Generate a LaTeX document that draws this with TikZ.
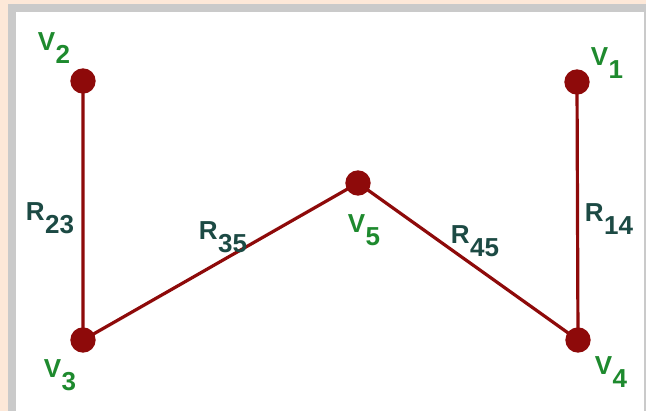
\documentclass[tikz,border=0pt]{standalone}
\usepackage{fontspec}
\setmainfont{Liberation Sans}
\definecolor{bgbeige}{HTML}{FDE8D8}
\definecolor{frame}{HTML}{B4B4B4}
\definecolor{dotred}{HTML}{8E0A0A}
\definecolor{vgreen}{HTML}{1E8A2E}
\definecolor{rteal}{HTML}{1C4A44}
\newcommand\lbl[2]{#1\kern0.3pt\raisebox{-0.5em}{#2}}
\begin{document}
\begin{tikzpicture}[x=0.75pt,y=-0.75pt,
  vertex/.style={circle,fill=dotred,inner sep=0pt,minimum size=19pt},
  edge/.style={draw=dotred,line width=2.4pt},
  vlab/.style={inner sep=0pt,text=vgreen,font=\fontsize{19.5}{20}\selectfont\bfseries},
  rlab/.style={inner sep=0pt,text=rteal,font=\fontsize{19.5}{20}\selectfont\bfseries}]
\useasboundingbox (0,0) rectangle (646,411);
\fill[bgbeige] (0,0) rectangle (646,411);
\fill[frame!70] (8,4) rectangle (646,411);
\fill[white] (16,12) rectangle (644,411);
\node[vertex] (v2) at (83,81) {};
\node[vertex] (v1) at (577,82) {};
\node[vertex] (v3) at (83,340) {};
\node[vertex] (v4) at (578,340) {};
\node[vertex] (v5) at (358,183) {};
\draw[edge] (v2.center) -- (v3.center) -- (v5.center) -- (v4.center) -- (v1.center);
\node[vlab] (l2) at (54,48) {\lbl{V}{2}};
\node[vlab] (l1) at (607,63) {\lbl{V}{1}};
\node[vlab] (l3) at (60,375) {\lbl{V}{3}};
\node[vlab] (l4) at (611,372) {\lbl{V}{4}};
\node[vlab] (l5) at (364,230) {\lbl{V}{5}};
\node[rlab] (r23) at (50,218) {\lbl{R}{23}};
\node[rlab] (r35) at (223,237) {\lbl{R}{35}};
\node[rlab] (r45) at (475,241) {\lbl{R}{45}};
\node[rlab] (r14) at (609,219) {\lbl{R}{14}};
\end{tikzpicture}
\end{document}
